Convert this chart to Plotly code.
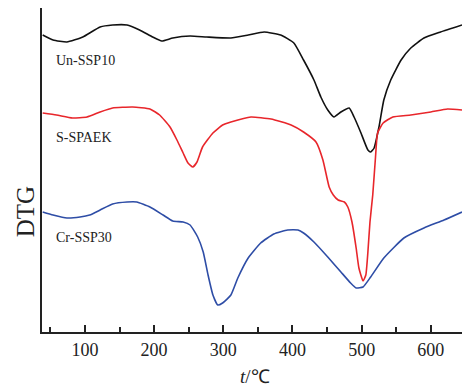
import plotly.graph_objects as go

# Temperatures (°C) and DTG values (arbitrary units)
t_un = [39, 54, 74, 97, 122, 140, 161, 179, 198, 211, 227, 252, 276, 311, 336, 359, 383, 402, 416,
        431, 441, 451, 460, 470, 482, 489, 499, 509, 513, 518, 525, 532, 542, 557, 571, 590, 614, 645]
dtg_un = [297, 292, 290, 295, 305, 307, 307, 302, 295, 291, 294, 296, 295, 294, 297, 300, 297, 289, 272,
          252, 235, 222, 215, 220, 224, 215, 199, 182, 180, 184, 205, 232, 252, 272, 284, 294, 300, 307]

t_sp = [39, 59, 82, 103, 122, 140, 169, 194, 208, 223, 233, 242, 249, 256, 262, 270, 285, 299, 311,
        340, 369, 398, 416, 434, 444, 453, 459, 466, 475, 480, 486, 492, 496, 502, 506, 509, 512, 516,
        520, 523, 531, 545, 571, 600, 624, 645]
dtg_sp = [219, 217, 214, 215, 220, 224, 225, 223, 217, 205, 192, 179, 169, 165, 170, 185, 199, 207, 210,
          215, 213, 207, 200, 190, 172, 145, 137, 132, 130, 125, 110, 84, 64, 51, 57, 80, 110, 137,
          175, 199, 209, 215, 217, 220, 223, 222]

t_cr = [39, 54, 74, 93, 107, 122, 140, 161, 175, 194, 213, 227, 242, 252, 263, 271, 278, 285, 292, 299,
        311, 321, 336, 354, 373, 393, 408, 416, 431, 451, 470, 484, 492, 502, 513, 532, 561, 590, 619, 645]
dtg_cr = [120, 117, 114, 115, 117, 122, 128, 130, 130, 125, 117, 111, 110, 107, 95, 80, 57, 37, 27, 29,
          37, 54, 74, 89, 98, 102, 102, 99, 90, 75, 60, 49, 44, 45, 55, 74, 94, 104, 112, 120]

labels = ["Un-SSP10", "S-SPAEK", "Cr-SSP30"]
label_y = [272, 195, 95]
colors = ["#111111", "#e8262b", "#2e4da6"]

FONT = "Liberation Serif"

fig = go.Figure()
for t, d, c, n in [(t_un, dtg_un, colors[0], labels[0]),
                   (t_sp, dtg_sp, colors[1], labels[1]),
                   (t_cr, dtg_cr, colors[2], labels[2])]:
    fig.add_trace(go.Scatter(x=t, y=d, mode="lines", name=n,
                             line=dict(color=c, width=1.6, shape="spline", smoothing=0.45)))

for n, y in zip(labels, label_y):
    fig.add_annotation(x=55, y=y, xref="x", yref="y", text=n, showarrow=False,
                       xanchor="left", yanchor="middle",
                       font=dict(family=FONT, size=14, color="#222"))

fig.add_annotation(x=-0.04, y=0.37, xref="paper", yref="paper", text="DTG", showarrow=False,
                   textangle=-90, xanchor="center", yanchor="middle",
                   font=dict(family=FONT, size=25, color="#222"))
fig.add_annotation(x=0.507, y=-0.138, xref="paper", yref="paper", text="<i>t</i>/℃", showarrow=False,
                   xanchor="center", yanchor="middle",
                   font=dict(family=FONT, size=19, color="#222"))

fig.update_layout(
    width=462, height=389,
    margin=dict(l=42, r=0, t=8, b=57),
    paper_bgcolor="white", plot_bgcolor="white",
    showlegend=False,
    xaxis=dict(range=[38, 645], tickmode="array", tickvals=[100, 200, 300, 400, 500, 600],
               ticks="inside", ticklen=7, tickwidth=1.5, tickcolor="#222",
               minor=dict(tickvals=[50, 150, 250, 350, 450, 550], ticks="inside", ticklen=5,
                          tickwidth=1.5, tickcolor="#222"),
               showline=True, linecolor="#222", linewidth=1.8, showgrid=False, zeroline=False,
               tickfont=dict(family=FONT, size=18, color="#222")),
    yaxis=dict(range=[0, 324], showticklabels=False, ticks="", showline=True,
               linecolor="#222", linewidth=1.8, showgrid=False, zeroline=False),
)

fig.write_html("out.html")
